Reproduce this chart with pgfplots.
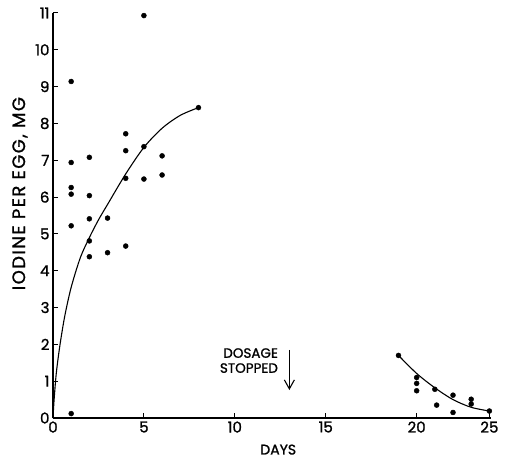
\documentclass[border=0pt]{standalone}
\usepackage{fontspec}
\setmainfont{Poppins}[FakeBold=1.2]
\newfontfamily\labfont[LetterSpace=8,FakeBold=1.2]{Poppins}
\usepackage{pgfplots}
\pgfplotsset{compat=1.18}
\usetikzlibrary{arrows.meta}
\begin{document}
\begin{tikzpicture}
\begin{axis}[
  scale only axis, width=438.2pt, height=405pt,
  xmin=0, xmax=24.1, ymin=0, ymax=11,
  axis lines=left, axis line style={-, line width=1.3pt},
  xtick={0,5,10,15,20,24}, xticklabels={0,5,10,15,20,25},
  ytick={0,1,2,3,4,5,6,7,8,9,10,11},
  tick align=inside, major tick length=5pt, tick style={line width=1pt, black},
  ticklabel style={font=\fontsize{15}{15}\selectfont},
  /pgf/number format/assume math mode=true,
  xlabel={DAYS}, ylabel={IODINE PER EGG, MG},
  xlabel style={at={(axis description cs:0.514,-0.078)},anchor=center,font=\fontsize{14}{14}\selectfont},
  ylabel style={at={(axis description cs:-0.0753,0.554)},anchor=center,font=\labfont\fontsize{18}{18}\selectfont},
  clip=false,
]
\addplot[only marks, mark=*, mark size=2.5pt, black] coordinates {
 (1,9.14) (1,6.94) (1,6.26) (1,6.08) (1,5.22) (1,0.12)
 (2,7.08) (2,6.04) (2,5.41) (2,4.81) (2,4.38)
 (3,5.43) (3,4.49)
 (4,7.72) (4,7.26) (4,6.51) (4,4.67)
 (5,10.93) (5,7.37) (5,6.49)
 (6,7.12) (6,6.60)
 (8,8.43)
};
\addplot[only marks, mark=*, mark size=2.5pt, black] coordinates {
 (19,1.70) (20,1.10) (20,0.94) (20,0.74) (21,0.78) (21.1,0.35)
 (22,0.62) (22,0.15) (23,0.51) (23,0.38) (24,0.19)
};
\addplot[smooth, line width=1.1pt, black] coordinates {
 (0,0) (0.06,0.49) (0.18,1.21) (0.37,1.94) (0.64,2.75) (1.0,3.55)
 (1.5,4.35) (2.0,4.9) (2.5,5.38) (3.0,5.8) (4.0,6.63) (5.0,7.35)
 (6.0,7.87) (7.0,8.22) (8.0,8.43)
};
\addplot[smooth, line width=1.1pt, black] coordinates {
 (19,1.70) (20,1.21) (21,0.82) (22,0.50) (23,0.29) (24,0.19)
};
\node[anchor=east, inner sep=0pt, align=right, font=\fontsize{13.5}{15}\selectfont] at (axis cs:12.38,1.56) {DOSAGE\\STOPPED};
\draw[line width=1.1pt, -{Straight Barb[length=9pt,width=10pt,line width=1.1pt]}] (axis cs:13,1.85) -- (axis cs:13,0.76);
\end{axis}
\path ([xshift=-53pt,yshift=-40pt]current axis.south west) rectangle ([xshift=16.8pt,yshift=13pt]current axis.north east);
\end{tikzpicture}
\end{document}
